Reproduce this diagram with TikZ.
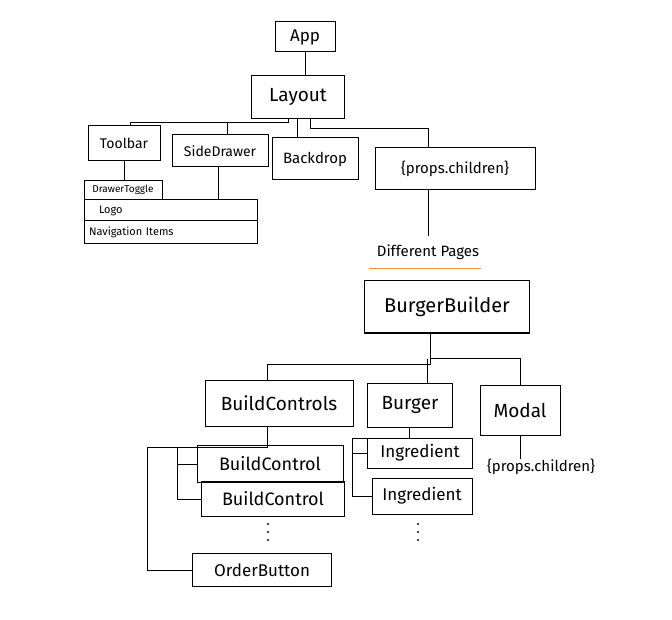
\documentclass[tikz,border=0pt]{standalone}
\usepackage{fontspec}
\setmainfont{Fira Sans}
\definecolor{orangeline}{RGB}{228,150,70}
\begin{document}
\begin{tikzpicture}[x=1pt,y=-1pt,
  box/.style={draw, line width=1pt, rectangle, inner sep=0pt, anchor=center},
  wire/.style={line width=1pt},
  lbl/.style={inner sep=0pt, anchor=center},
  uline/.style={line width=1.4pt, color=orangeline},
  dotm/.style={circle, fill=black, inner sep=0pt, minimum size=2.4pt},
  fs/.style={font=\fontsize{#1}{#1}\selectfont}
]
\useasboundingbox (0,0) rectangle (672,620);
\fill[white] (0,0) rectangle (672,620);

% top part
\node[box, fs=17, minimum width=60, minimum height=30] (app) at (305,37) {App};
\node[box, fs=19, minimum width=93, minimum height=43] (lay) at (298,97) {Layout};
\node[box, fs=14, minimum width=72, minimum height=35] (tb) at (124,143) {Toolbar};
\node[box, fs=14, minimum width=96, minimum height=32] (sd) at (220,151) {SideDrawer};
\node[box, fs=15, minimum width=86, minimum height=42] (bd) at (315,159) {Backdrop};
\node[box, fs=15, minimum width=160, minimum height=42] (pc) at (455,169) {\{props.children\}};
\node[box, fs=10, minimum width=78, minimum height=19] (dt) at (123,190) {DrawerToggle};
\node[box, fs=11, minimum width=173, minimum height=21, text width=163pt, inner xsep=5pt, align=left] (logo) at (170.5,210.5) {\hspace*{10pt}Logo};
\node[box, fs=11, minimum width=173, minimum height=23, text width=163pt, inner xsep=5pt, align=left] (nav) at (170.5,232.5) {Navigation Items};

\node[lbl, fs=15] (dp) at (428,252) {Different Pages};
\draw[uline] ([xshift=-8pt,yshift=-9pt]dp.south west) -- ([xshift=2pt,yshift=-9pt]dp.south east);

% lower part
\node[box, fs=20, minimum width=165, minimum height=52] (bb) at (447,307) {BurgerBuilder};
\node[box, fs=19, minimum width=148, minimum height=46] (bc) at (279,403) {BuildControls};
\node[box, fs=19, minimum width=85, minimum height=44] (bg) at (410,405) {Burger};
\node[box, fs=19, minimum width=80, minimum height=50] (md) at (520,410) {Modal};
\node[lbl, fs=15] (pc2) at (541,467) {\{props.children\}};
\node[box, fs=18, minimum width=146, minimum height=37] (bc1) at (270,464) {BuildControl};
\node[box, fs=18, minimum width=143, minimum height=35] (bc2) at (273,499) {BuildControl};
\node[box, fs=17, minimum width=139, minimum height=33] (ob) at (262,570) {OrderButton};
\node[box, fs=17, minimum width=105, minimum height=30] (ig1) at (420,453) {Ingredient};
\node[box, fs=17, minimum width=100, minimum height=36] (ig2) at (422,496) {Ingredient};

% vertical ellipses
\foreach \i/\yy in {1/524,2/532,3/540} {
  \node[dotm] (da\i) at (268,\yy) {};
  \node[dotm] (db\i) at (418,\yy) {};
}

% connectors top
\draw[wire] (app.south) -- (app.south |- lay.north);
\coordinate (layL) at ([xshift=-10pt]lay.south);
\coordinate (layR) at ([xshift=12pt]lay.south);
\coordinate (tbT) at ([xshift=6pt]tb.north);
\coordinate (sdT) at ([xshift=7pt]sd.north);
\coordinate (bdT) at ([xshift=-18pt]bd.north);
\coordinate (pcT) at ([xshift=-27pt]pc.north);
\draw[wire] (layL) -- ++(0,4) coordinate (bus1) -| (tbT);
\draw[wire] (bus1 -| sdT) -- (sdT);
\draw[wire] (lay.south -| bdT) -- (bdT);
\draw[wire] (layR) -- ++(0,10) -| (pcT);
\draw[wire] (tb.south) -- (tb.south |- dt.north);
\coordinate (sdB) at ([xshift=-2pt]sd.south);
\draw[wire] (sdB) -- (sdB |- logo.north);
\draw[wire] (pc.south -| dp.north) -- ([yshift=8pt]dp.north);

% connectors lower
\coordinate (bbB) at ([xshift=-17pt]bb.south);
\draw[wire] (bbB) -- ++(0,25) coordinate (j2);
\coordinate (bcT) at ([xshift=-12pt]bc.north);
\coordinate (bgT) at ([xshift=17pt]bg.north);
\draw[wire] (j2) -- ++(0,6) -| (bcT);
\draw[wire] (j2) -| (md.north);
\draw[wire] (j2 -| bgT) -- (bgT);
\draw[wire] (md.south) -- (md.south |- pc2.north);

\coordinate (bcB) at ([xshift=-12pt]bc.south);
\coordinate (t1) at (177,447);
\coordinate (t0) at (147,447);
\draw[wire] (bcB) |- (t1) |- (bc2.west);
\draw[wire] (t1 |- bc1.west) -- (bc1.west);
\draw[wire] (t1) -- (t0) |- (ob.west);

\coordinate (bgB) at ([xshift=-1pt]bg.south);
\coordinate (t2) at (352,438);
\draw[wire] (bgB) |- (t2) |- (ig2.west);
\draw[wire] (t2 |- ig1.west) -- (ig1.west);
\end{tikzpicture}
\end{document}
